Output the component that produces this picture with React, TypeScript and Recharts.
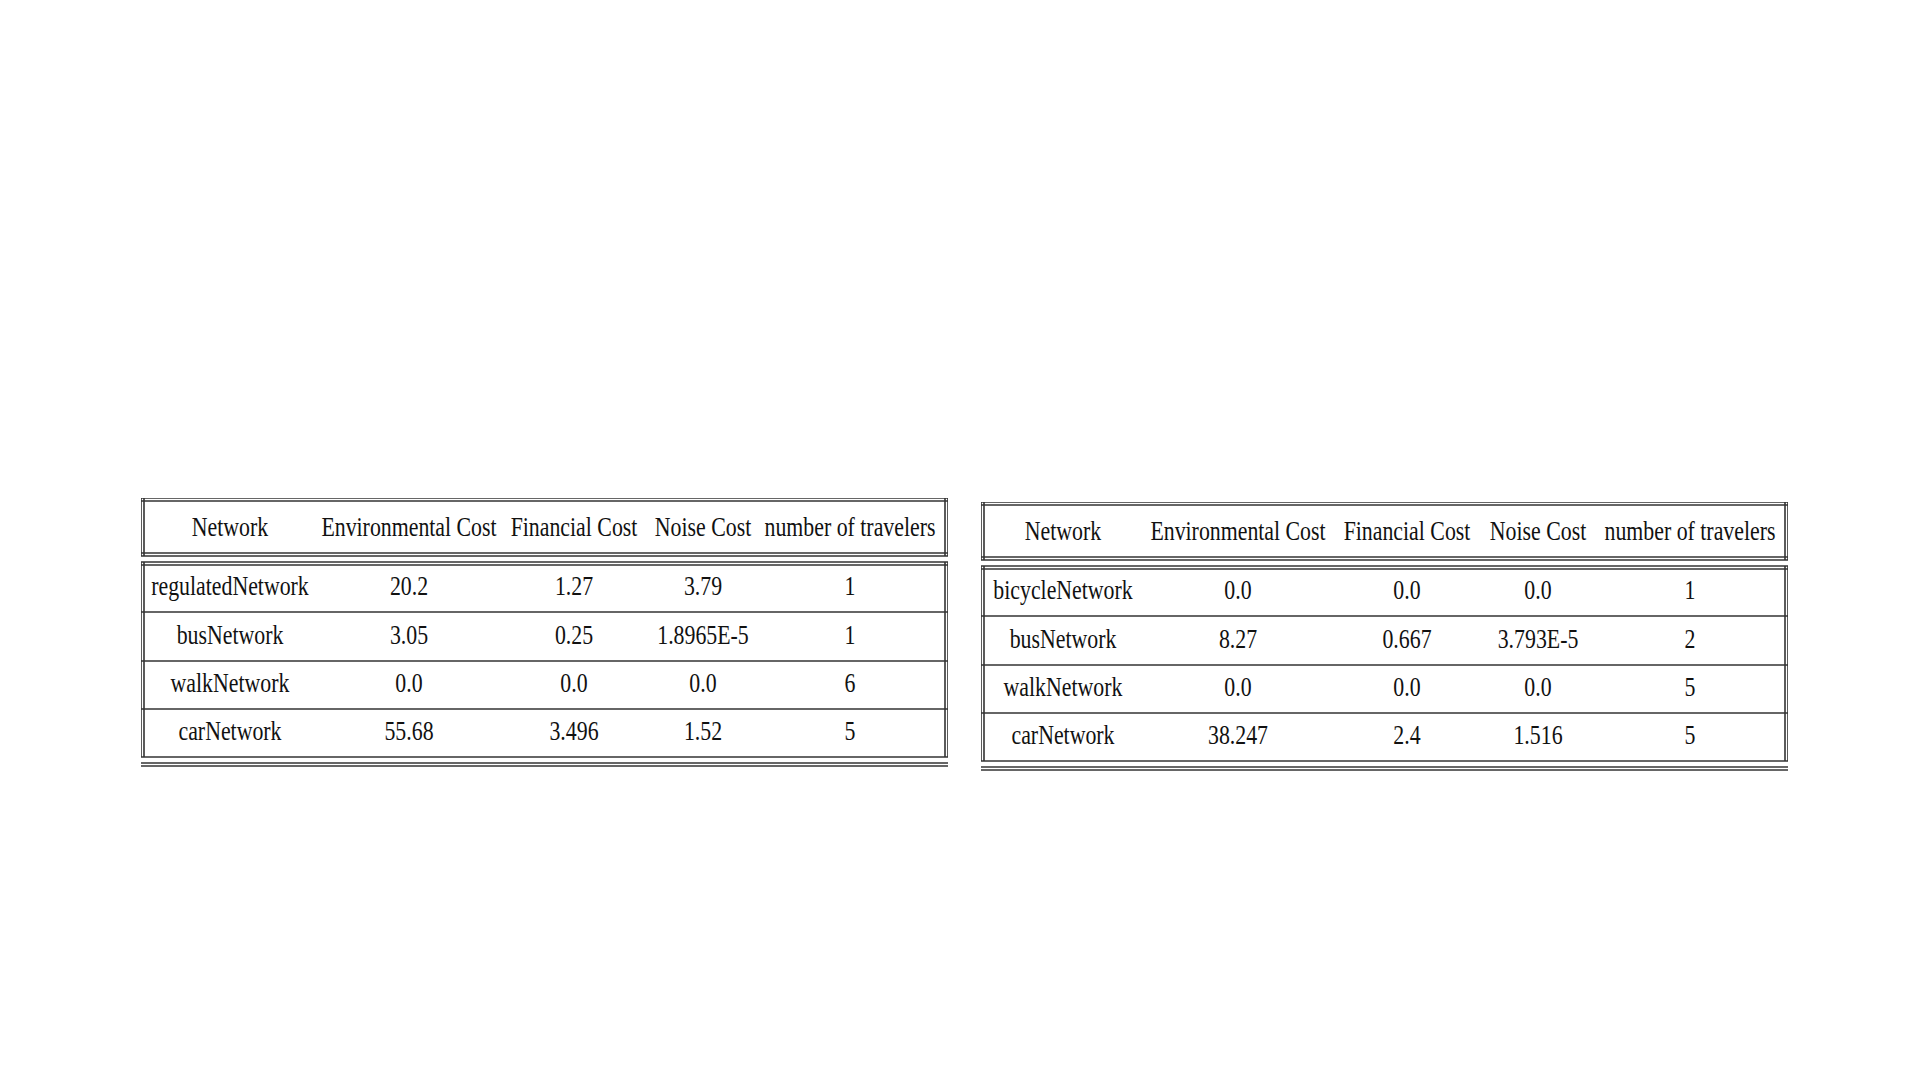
import { ScatterChart, Scatter, XAxis, YAxis, ReferenceLine } from "recharts";

const headers = ["Network", "Environmental Cost", "Financial Cost", "Noise Cost", "number of travelers"];

// table 1
const networksA = ["regulatedNetwork", "busNetwork", "walkNetwork", "carNetwork"];
const envA = ["20.2", "3.05", "0.0", "55.68"];
const finA = ["1.27", "0.25", "0.0", "3.496"];
const noiseA = ["3.79", "1.8965E-5", "0.0", "1.52"];
const travelersA = ["1", "1", "6", "5"];

// table 2
const networksB = ["bicycleNetwork", "busNetwork", "walkNetwork", "carNetwork"];
const envB = ["0.0", "8.27", "0.0", "38.247"];
const finB = ["0.0", "0.667", "0.0", "2.4"];
const noiseB = ["0.0", "3.793E-5", "0.0", "1.516"];
const travelersB = ["1", "2", "5", "5"];

const W = 807;
const H = 272;
const colsA = [89, 268, 433, 562, 709];
const colsB = [82, 257, 426, 557, 709];
const rowCenters = [29, 88, 137, 185, 233];
const bodyLines = [114, 163, 211];

const ink = "#111";
const rule = "#333";

function Cell(props: any) {
  const { cx, cy, payload } = props;
  return (
    <text
      transform={`translate(${cx},${cy}) scale(0.78,1)`}
      textAnchor="middle"
      dominantBaseline="central"
      fontFamily="'Liberation Serif', serif"
      fontSize={28}
      fill={ink}
    >
      {payload.label}
    </text>
  );
}

function seg(x1: number, y1: number, x2: number, y2: number, key: string) {
  return (
    <ReferenceLine
      key={key}
      segment={[{ x: x1, y: y1 }, { x: x2, y: y2 }]}
      stroke={rule}
      strokeWidth={1.6}
      ifOverflow="visible"
    />
  );
}

function Table({ cols, columns, left, top }: { cols: number[]; columns: string[][]; left: number; top: number }) {
  const headerData = headers.map((h, c) => ({ x: cols[c], y: rowCenters[0], label: h }));
  const lines = [
    seg(0, 0, W, 0, "h0"), seg(0, 3, W, 3, "h1"), seg(0, 55, W, 55, "h2"), seg(0, 58, W, 58, "h3"),
    seg(0, 64, W, 64, "b0"), seg(0, 67, W, 67, "b1"),
    ...bodyLines.map((y, i) => seg(0, y, W, y, "r" + i)),
    seg(0, 259, W, 259, "e0"), seg(0, 265, W, 265, "e1"), seg(0, 268, W, 268, "e2"),
    ...[0, 3, W - 3, W].map((x, i) => seg(x, 0, x, 58, "vh" + i)),
    ...[0, 3, W - 3, W].map((x, i) => seg(x, 64, x, 259, "vb" + i)),
  ];
  return (
    <div style={{ position: "absolute", left, top }}>
      <ScatterChart width={W} height={H} margin={{ top: 0, right: 0, bottom: 0, left: 0 }}>
        <XAxis type="number" dataKey="x" domain={[0, W]} hide />
        <YAxis type="number" dataKey="y" domain={[0, H]} reversed hide />
        {lines}
        <Scatter data={headerData} shape={Cell} isAnimationActive={false} />
        {columns.map((col, c) => (
          <Scatter
            key={c}
            data={col.map((v, r) => ({ x: cols[c], y: rowCenters[r + 1], label: v }))}
            shape={Cell}
            isAnimationActive={false}
          />
        ))}
      </ScatterChart>
    </div>
  );
}

export default function App() {
  return (
    <div style={{ width: 1920, height: 1080, background: "#fff" }}>
      <Table cols={colsA} columns={[networksA, envA, finA, noiseA, travelersA]} left={141} top={498} />
      <Table cols={colsB} columns={[networksB, envB, finB, noiseB, travelersB]} left={981} top={502} />
    </div>
  );
}
